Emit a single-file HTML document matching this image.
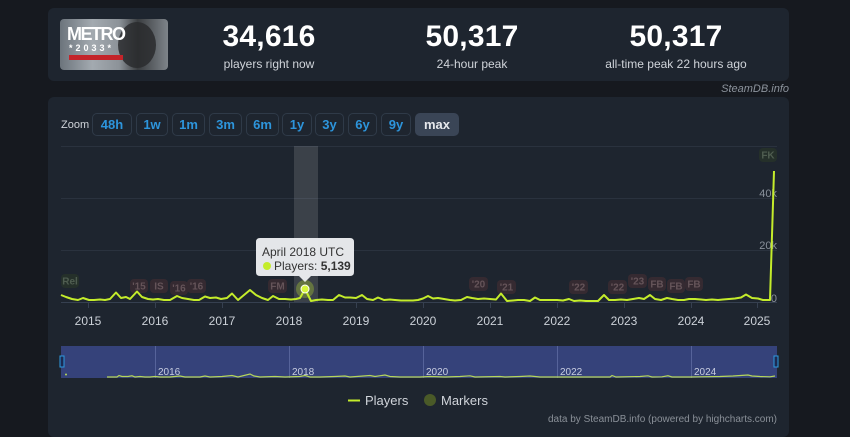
<!DOCTYPE html>
<html><head><meta charset="utf-8">
<style>
html,body{margin:0;padding:0;}
body{width:850px;height:427px;background:#16191f;position:relative;overflow:hidden;font-family:"Liberation Sans",sans-serif;}
.card{position:absolute;background:#1e252f;border-radius:6px;}
.stat{position:absolute;text-align:center;color:#fff;}
.stat b{display:block;font-size:30px;font-weight:bold;line-height:30px;letter-spacing:0.2px;}
.stat span{display:block;font-size:12px;color:#d0d4da;margin-top:5px;}
.btn{position:absolute;top:113px;height:21px;border:1px solid #2f3a48;border-radius:5px;color:#2d95dc;font-weight:bold;font-size:13px;line-height:21px;text-align:center;box-sizing:content-box;}
</style></head><body>
<div class="card" style="left:48px;top:8px;width:741px;height:73px;"></div>
<div class="card" style="left:48px;top:97px;width:741px;height:340px;"></div>

<!-- game image -->
<div style="position:absolute;left:60px;top:19px;width:108px;height:51px;border-radius:4px;overflow:hidden;background:linear-gradient(90deg,#6c747c 0%,#a3aab0 30%,#8c9298 55%,#3a3d40 72%,#7e848a 100%);">
  <div style="position:absolute;left:58px;top:3px;width:38px;height:46px;border-radius:50%;background:#2a2c2e;opacity:.85;"></div>
  <div style="position:absolute;left:7px;top:5px;font-size:18px;font-weight:bold;color:#fff;letter-spacing:-1.5px;">METRO</div>
  <div style="position:absolute;left:9px;top:24px;font-size:9px;font-weight:bold;color:#fff;letter-spacing:3px;">*2033*</div>
  <div style="position:absolute;left:9px;top:36px;width:54px;height:5px;background:#c4242a;"></div>
</div>

<div class="stat" style="left:189px;top:22px;width:160px;"><b>34,616</b><span>players right now</span></div>
<div class="stat" style="left:392px;top:22px;width:160px;"><b>50,317</b><span>24-hour peak</span></div>
<div class="stat" style="left:576px;top:22px;width:200px;"><b>50,317</b><span>all-time peak 22 hours ago</span></div>
<div style="position:absolute;right:61px;top:83px;font-size:11px;font-style:italic;color:#8c939c;">SteamDB.info</div>

<div style="position:absolute;left:61px;top:119px;font-size:11px;color:#d0d4da;">Zoom</div>
<div class="btn" style="left:92px;width:38px;">48h</div>
<div class="btn" style="left:136px;width:30px;">1w</div>
<div class="btn" style="left:172px;width:31px;">1m</div>
<div class="btn" style="left:209px;width:31px;">3m</div>
<div class="btn" style="left:246px;width:31px;">6m</div>
<div class="btn" style="left:282px;width:28px;">1y</div>
<div class="btn" style="left:315px;width:27px;">3y</div>
<div class="btn" style="left:348px;width:27px;">6y</div>
<div class="btn" style="left:381px;width:28px;">9y</div>
<div class="btn" style="left:415px;width:42px;background:#3a4556;border-color:#3a4556;color:#e6e8ec;">max</div>

<svg width="850" height="427" style="position:absolute;left:0;top:0;" xmlns="http://www.w3.org/2000/svg" font-family="Liberation Sans, sans-serif">
  <!-- gridlines -->
  <g stroke="#2a323e" stroke-width="1">
    <line x1="61" y1="146.5" x2="777" y2="146.5"/>
    <line x1="61" y1="198.5" x2="777" y2="198.5"/>
    <line x1="61" y1="250.5" x2="777" y2="250.5"/>
    <line x1="61" y1="302.5" x2="777" y2="302.5" stroke="#364050"/>
  </g>
  <!-- highlight band -->
  <rect x="294" y="146" width="24" height="156" fill="#ffffff" fill-opacity="0.13"/>
  <!-- x ticks -->
  <g stroke="#364050" stroke-width="1">
    <line x1="88.5" y1="302" x2="88.5" y2="308"/><line x1="155.5" y1="302" x2="155.5" y2="308"/>
    <line x1="222.5" y1="302" x2="222.5" y2="308"/><line x1="289.5" y1="302" x2="289.5" y2="308"/>
    <line x1="356.5" y1="302" x2="356.5" y2="308"/><line x1="423.5" y1="302" x2="423.5" y2="308"/>
    <line x1="490.5" y1="302" x2="490.5" y2="308"/><line x1="557.5" y1="302" x2="557.5" y2="308"/>
    <line x1="624.5" y1="302" x2="624.5" y2="308"/><line x1="691.5" y1="302" x2="691.5" y2="308"/>
    <line x1="757.5" y1="302" x2="757.5" y2="308"/>
  </g>
  <!-- y labels -->
  <g fill="#8a919b" font-size="11" text-anchor="end">
    <text x="777" y="197">40k</text>
    <text x="777" y="249">20k</text>
    <text x="777" y="302">0</text>
  </g>
  <!-- x labels -->
  <g fill="#ccd1d8" font-size="12" text-anchor="middle">
    <text x="88" y="325">2015</text><text x="155" y="325">2016</text><text x="222" y="325">2017</text>
    <text x="289" y="325">2018</text><text x="356" y="325">2019</text><text x="423" y="325">2020</text>
    <text x="490" y="325">2021</text><text x="557" y="325">2022</text><text x="624" y="325">2023</text>
    <text x="691" y="325">2024</text><text x="757" y="325">2025</text>
  </g>
  <!-- flags -->
  <g font-size="10" font-weight="bold" text-anchor="middle">
    <rect x="61" y="274" width="18" height="14" rx="4" fill="#25302a"/><text x="70" y="284.5" fill="#4f5d50">Rel</text>
    <rect x="759" y="148" width="18" height="14" rx="4" fill="#25302a"/><text x="768" y="158.5" fill="#4f5d50">FK</text>
    <g fill="#352a31">
      <rect x="130" y="279" width="18" height="14" rx="4"/>
      <rect x="150" y="279" width="18" height="14" rx="4"/>
      <rect x="170" y="281" width="18" height="14" rx="4"/>
      <rect x="187" y="279" width="19" height="14" rx="4"/>
      <rect x="268" y="279" width="19" height="14" rx="4"/>
      <rect x="469" y="277" width="19" height="14" rx="4"/>
      <rect x="497" y="280" width="19" height="14" rx="4"/>
      <rect x="569" y="280" width="19" height="14" rx="4"/>
      <rect x="608" y="280" width="19" height="14" rx="4"/>
      <rect x="628" y="274" width="19" height="14" rx="4"/>
      <rect x="648" y="277" width="18" height="14" rx="4"/>
      <rect x="667" y="279" width="18" height="14" rx="4"/>
      <rect x="685" y="277" width="18" height="14" rx="4"/>
    </g>
    <g fill="#655459">
      <text x="139" y="289.5">'15</text>
      <text x="159" y="289.5">IS</text>
      <text x="179" y="291.5">'16</text>
      <text x="196.5" y="289.5">'16</text>
      <text x="277.5" y="289.5">FM</text>
      <text x="478.5" y="287.5">'20</text>
      <text x="506.5" y="290.5">'21</text>
      <text x="578.5" y="290.5">'22</text>
      <text x="617.5" y="290.5">'22</text>
      <text x="637.5" y="284.5">'23</text>
      <text x="657" y="287.5">FB</text>
      <text x="676" y="289.5">FB</text>
      <text x="694" y="287.5">FB</text>
    </g>
  </g>
  <!-- series -->
  <polyline fill="none" stroke="#c4ec2b" stroke-width="2" stroke-linejoin="round" points="61,295 66,297 72,299 78,300 83,298 89,300 94,300 100,299.5 105,300 110,299 116,292.5 121,298 126,297 130,299 137,291.5 142,297 148,299 153,299.5 158,299 164,300 170,300 177,296 182,298 188,299 194,300 199,300 205,296.5 210,298 216,297.5 221,299 227,298 232,293.5 238,300 244,295 250,290 256,295 262,298 268,300 273,296 279,299 285,299 291,299.5 296,299 300,298 305,289 311,301 316,300 322,299.5 328,300 333,300 339,295 345,297.5 350,297.5 356,298 362,295 367,299 373,300 378,297.5 384,300 390,299.5 395,300 401,300.5 407,300.5 413,300.5 418,300 423,298.5 428,296 433,298.5 438,298 444,299 450,300 455,300.5 461,300 467,297 472,298 478,299 484,298.5 490,299 496,299.5 501,293.5 507,301 513,300.5 518,300 524,300 530,301 535,297.5 540,300 546,300 552,300 557,300 563,300.5 569,299 574,301 580,300.5 586,301 592,301 598,301 604,295 609,300 615,300 621,299.5 627,300 633,299 639,298 644,299 650,295 655,299 661,300 667,298 672,299 678,300 684,300 689,299 695,299 701,299.5 706,300 712,299.5 718,300 723,299.5 729,299 735,298.5 741,297.5 746,294.5 752,298 758,298.5 763,300 768,300 770,300 774,171"/>
  <!-- hover point -->
  <circle cx="305" cy="289" r="9" fill="#c4ec2b" fill-opacity="0.3"/>
  <circle cx="305" cy="289" r="4" fill="#d6f53c" stroke="#ffffff" stroke-width="1"/>
  <!-- tooltip -->
  <path d="M260,238 H350 Q354,238 354,242 V272 Q354,276 350,276 H311 L305,282 L299,276 H260 Q256,276 256,272 V242 Q256,238 260,238 Z" fill="#eceef0" fill-opacity="0.96"/>
  <text x="262" y="256" font-size="12" fill="#333">April 2018 UTC</text>
  <circle cx="267" cy="266" r="4" fill="#c4ec2b"/>
  <text x="274" y="270" font-size="12" fill="#333">Players: <tspan font-weight="bold">5,139</tspan></text>

  <!-- navigator -->
  <rect x="61" y="346" width="716" height="32" fill="#35427a"/>
  <g stroke="#56639a" stroke-width="1">
    <line x1="155.5" y1="346" x2="155.5" y2="378"/><line x1="289.5" y1="346" x2="289.5" y2="378"/>
    <line x1="423.5" y1="346" x2="423.5" y2="378"/><line x1="557.5" y1="346" x2="557.5" y2="378"/>
    <line x1="691.5" y1="346" x2="691.5" y2="378"/>
  </g>
  <g fill="#c8cde0" font-size="10">
    <text x="158" y="375">2016</text><text x="292" y="375">2018</text><text x="426" y="375">2020</text>
    <text x="560" y="375">2022</text><text x="694" y="375">2024</text>
  </g>
  <polyline fill="none" stroke="#b6d65a" stroke-width="1.2" points="107,377 117,377 119,375.5 122,376.5 128,376.5 132,375.8 135,377 140,376.5 145,377 150,377 155,376.5 160,377 170,377 180,376 185,377 200,377 205,376 210,377 222,376.5 232,375.5 238,377 250,374 254,376 260,377 275,376.5 285,377 300,376.5 305,375.5 310,377 320,377 335,376.5 345,376 350,377 370,375.5 375,376.5 385,375 390,376.5 400,377 420,377 430,376.5 445,377 460,376.5 470,375.8 475,377 500,376.5 505,377 520,376.5 530,376 540,377 560,377 610,377 612,375.5 616,377 640,376.5 648,375.8 652,377 662,376.8 668,375.8 672,377 690,377 700,376.8 720,376.5 733,376 748,375 752,376 760,376.5 770,376.8 775,376"/>
  <circle cx="66" cy="374.5" r="1" fill="#b6d65a"/>
  <rect x="60" y="356" width="4" height="11" fill="#1c2a52" stroke="#2d9ae0" stroke-width="1"/>
  <rect x="774" y="356" width="4" height="11" fill="#1c2a52" stroke="#2d9ae0" stroke-width="1"/>

  <!-- legend -->
  <line x1="348" y1="400.5" x2="360" y2="400.5" stroke="#c4ec2b" stroke-width="2"/>
  <text x="365" y="405" font-size="13" fill="#d0d4da">Players</text>
  <circle cx="430" cy="400" r="6" fill="#4a5a28"/>
  <text x="441" y="405" font-size="13" fill="#d0d4da">Markers</text>

  <text x="777" y="422" font-size="10" fill="#8a9098" text-anchor="end">data by SteamDB.info (powered by highcharts.com)</text>
</svg>
</body></html>
